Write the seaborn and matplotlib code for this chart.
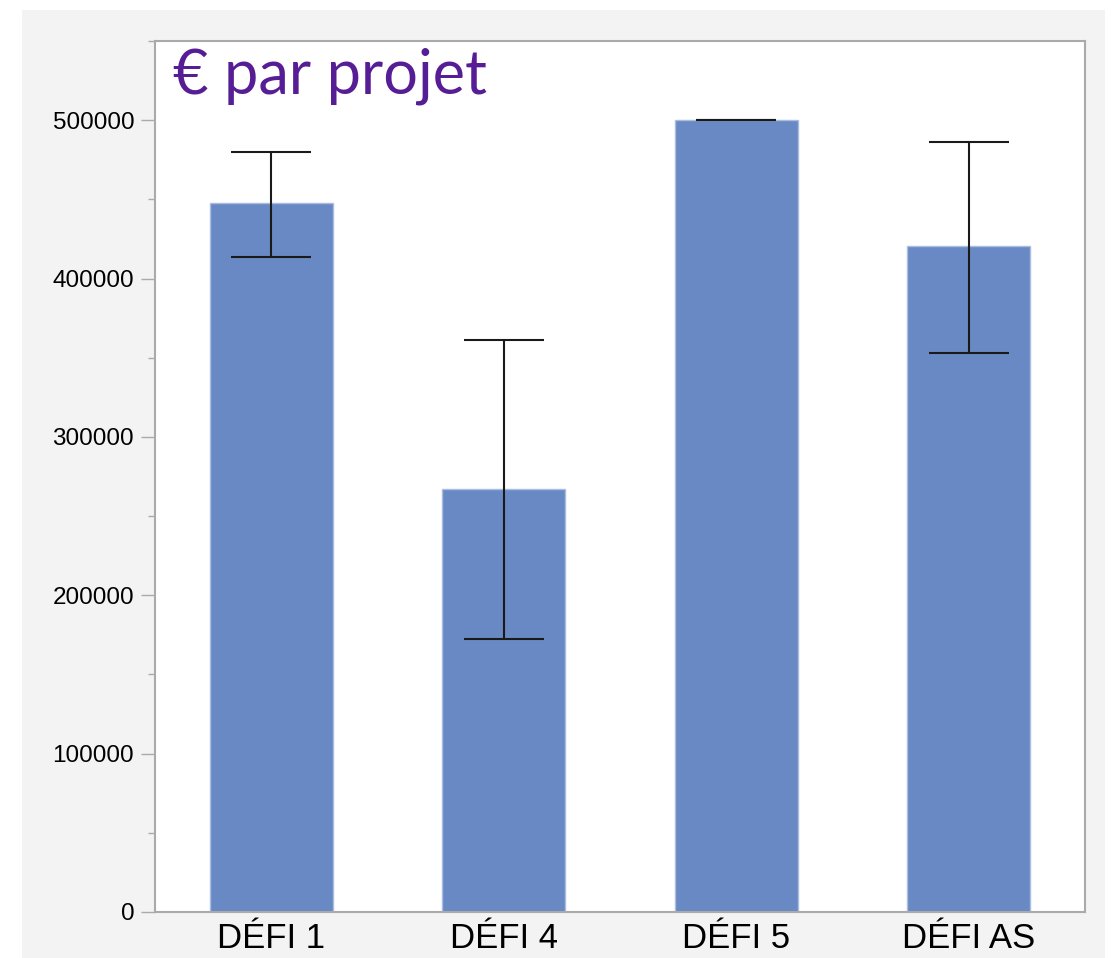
import numpy as np
import pandas as pd
import matplotlib.pyplot as plt
from matplotlib.patches import Rectangle
from matplotlib.ticker import MultipleLocator
import seaborn as sns

# values
categories = ['DÉFI 1', 'DÉFI 4', 'DÉFI 5', 'DÉFI AS']
means = [447500, 267000, 500000, 420500]
err_low = [413500, 172500, 500000, 353000]
err_high = [480000, 361000, 500000, 486000]

data = pd.DataFrame({'defi': categories, 'euros': means})

sns.set_style('white')
plt.rcParams['font.family'] = ['Liberation Sans', 'DejaVu Sans']

fig = plt.figure(figsize=(11.19, 9.58), dpi=100)
fig.patch.set_facecolor('white')
# gray panel behind the plot
fig.patches.append(Rectangle((22 / 1119, 0), (1105 - 22) / 1119, (958 - 10) / 958,
                             transform=fig.transFigure, facecolor='#f3f3f3',
                             edgecolor='none', zorder=-1))

ax = fig.add_axes([155 / 1119, 46 / 958, 930 / 1119, 871 / 958])
ax.set_facecolor('white')

sns.barplot(data=data, x='defi', y='euros', color='#6889c3', saturation=1,
            width=0.53, errorbar=None, edgecolor='#a9bde0', linewidth=1, ax=ax)

pos = np.arange(len(categories))
lower = np.array(means) - np.array(err_low)
upper = np.array(err_high) - np.array(means)
ax.errorbar(pos, means, yerr=[lower, upper], fmt='none', ecolor='#1a1a1a',
            elinewidth=1.5, capsize=29, capthick=1.5, zorder=3)

ax.set_xlim(-0.5, 3.5)
ax.set_ylim(0, 550000)
ax.yaxis.set_major_locator(MultipleLocator(100000))
ax.yaxis.set_minor_locator(MultipleLocator(50000))
ax.set_xlabel('')
ax.set_ylabel('')

for s in ax.spines.values():
    s.set_color('#aaaaaa')
    s.set_linewidth(1.5)

ax.tick_params(axis='y', which='major', left=True, length=10, width=1, color='#aaaaaa',
               labelsize=17.5, labelcolor='black', pad=5)
ax.tick_params(axis='y', which='minor', left=True, length=5, width=1, color='#aaaaaa')
ax.tick_params(axis='x', length=0, pad=7, labelcolor='black', labelsize=25)

ax.text(0.019, 0.94, '€ par projet', transform=ax.transAxes, color='#561d95',
        fontsize=44, family=['Lato', 'DejaVu Sans'], ha='left', va='baseline')

plt.savefig('out.png', dpi=100)
